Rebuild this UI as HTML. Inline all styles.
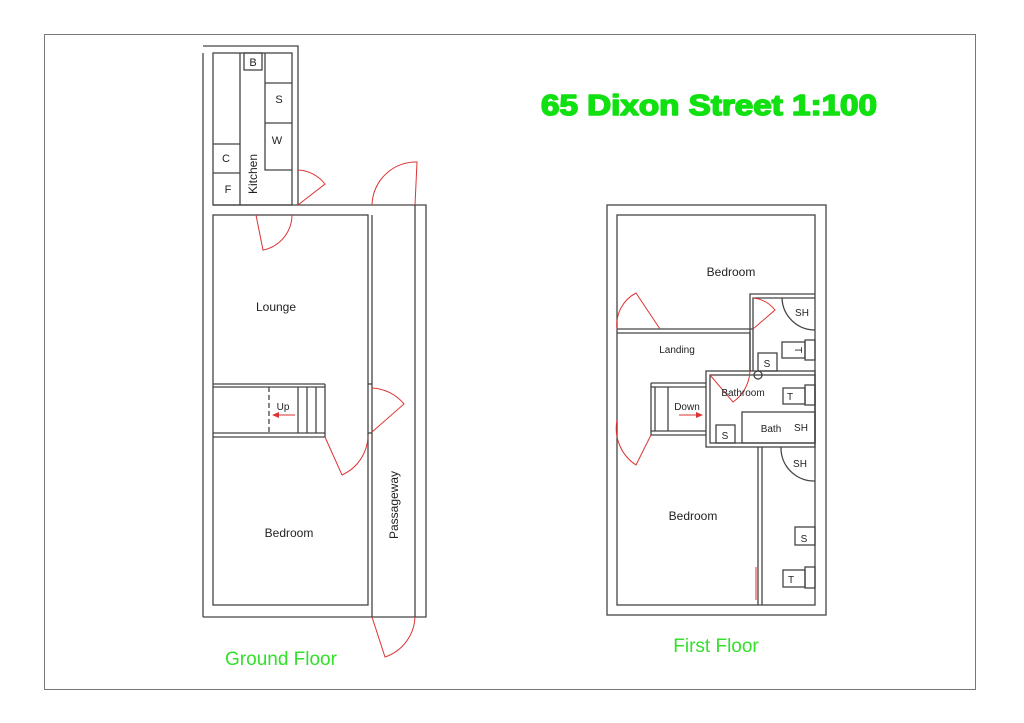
<!DOCTYPE html>
<html><head><style>body{margin:0;background:#fff}svg{display:block}</style></head><body>
<svg width="1024" height="723" viewBox="0 0 1024 723" xmlns="http://www.w3.org/2000/svg" font-family="Liberation Sans, sans-serif">
<rect x="0" y="0" width="1024" height="723" fill="#fff"/>
<rect x="44.5" y="34.5" width="931" height="655" fill="none" stroke="#777" stroke-width="1"/>
<g fill="none" stroke="#444" stroke-width="1.3">
<polyline points="203,46 298,46 298,205"/>
<line x1="203" y1="53" x2="203" y2="617"/>
<rect x="213" y="53" width="79" height="152"/>
<line x1="240" y1="53" x2="240" y2="205"/>
<polyline points="265,53 265,170 292,170"/>
<line x1="265" y1="83" x2="292" y2="83"/>
<line x1="265" y1="123" x2="292" y2="123"/>
<rect x="244" y="53" width="18" height="17"/>
<line x1="213" y1="144" x2="240" y2="144"/>
<line x1="213" y1="173" x2="240" y2="173"/>
<polyline points="203,617 426,617 426,205 213,205"/>
<rect x="213" y="215" width="155" height="390"/>
<line x1="372" y1="215" x2="372" y2="617"/>
<line x1="415" y1="205" x2="415" y2="617"/>
<line x1="213" y1="384" x2="325" y2="384"/>
<line x1="213" y1="387" x2="325" y2="387"/>
<line x1="213" y1="433" x2="325" y2="433"/>
<line x1="213" y1="437" x2="325" y2="437"/>
<line x1="325" y1="384" x2="325" y2="437"/>
<line x1="298" y1="387" x2="298" y2="433"/>
<line x1="307" y1="387" x2="307" y2="433"/>
<line x1="316" y1="387" x2="316" y2="433"/>
<line x1="269" y1="387" x2="269" y2="433" stroke-dasharray="5,3"/>
<line x1="368" y1="384" x2="372" y2="384"/>
<line x1="368" y1="433" x2="372" y2="433"/>
<rect x="607" y="205" width="219" height="410"/>
<rect x="617" y="215" width="198" height="390"/>
<line x1="617" y1="329" x2="753" y2="329"/>
<polyline points="617,333 750,333 750,371"/>
<polyline points="750,371 750,294 815,294"/>
<polyline points="753,371 753,298 815,298"/>
<rect x="706" y="371" width="109" height="76"/>
<rect x="710" y="375" width="105" height="68"/>
<rect x="742" y="412" width="73" height="31"/>
<rect x="716" y="425" width="19" height="18"/>
<rect x="783" y="388" width="22" height="16"/>
<rect x="805" y="385" width="10" height="20"/>
<rect x="758" y="353" width="19" height="18"/>
<rect x="782" y="342" width="23" height="16"/>
<rect x="805" y="340" width="10" height="20"/>
<circle cx="758" cy="375" r="4"/>
<path d="M782,298 A33,33 0 0 0 815,330"/>
<line x1="651" y1="383" x2="706" y2="383"/>
<line x1="651" y1="387" x2="706" y2="387"/>
<line x1="651" y1="431" x2="706" y2="431"/>
<line x1="651" y1="435" x2="706" y2="435"/>
<line x1="651" y1="383" x2="651" y2="435"/>
<line x1="655" y1="387" x2="655" y2="431"/>
<line x1="668" y1="387" x2="668" y2="431"/>
<line x1="758" y1="447" x2="758" y2="605"/>
<line x1="762" y1="447" x2="762" y2="605"/>
<path d="M781,447 A33,33 0 0 0 815,481"/>
<rect x="795" y="527" width="20" height="18"/>
<rect x="783" y="570" width="22" height="17"/>
<rect x="805" y="567" width="10" height="21"/>
</g>
<g fill="none" stroke="#d33" stroke-width="1">
<path d="M298,205 L325,184 A36,36 0 0 0 298,170"/>
<path d="M256,215 L263,250 A36,36 0 0 0 292,215"/>
<path d="M415,205 L417,162 A44,44 0 0 0 372,205"/>
<path d="M325,437 L342,475 A44,44 0 0 0 368,437"/>
<path d="M372,388 A44,44 0 0 1 404,404 L372,432"/>
<path d="M372,617 L385,657 A44,44 0 0 0 415,617"/>
<path d="M617,329 A36,36 0 0 1 636,293 L660,329"/>
<path d="M753,298 A32,32 0 0 1 775,310 L753,329"/>
<path d="M710,375 L733,402 A40,40 0 0 0 750,371"/>
<path d="M617,420 A44,44 0 0 0 636,465 L651,435"/>
<line x1="756" y1="567" x2="756" y2="600"/>
<line x1="295" y1="415" x2="276" y2="415"/>
<line x1="679" y1="415" x2="698" y2="415"/>
</g>
<polygon points="272,415 279,412 279,418" fill="#d33"/>
<polygon points="703,415 696,412 696,418" fill="#d33"/>
<g fill="#222" font-size="11">
<text x="253" y="66" text-anchor="middle">B</text>
<text x="279" y="103" text-anchor="middle">S</text>
<text x="277" y="144" text-anchor="middle">W</text>
<text x="226" y="162" text-anchor="middle">C</text>
<text x="228" y="193" text-anchor="middle">F</text>
<text transform="translate(257,194) rotate(-90)" font-size="12">Kitchen</text>
<text x="276" y="311" text-anchor="middle" font-size="12">Lounge</text>
<text x="283" y="410" text-anchor="middle" font-size="10">Up</text>
<text x="289" y="537" text-anchor="middle" font-size="12">Bedroom</text>
<text transform="translate(398,505) rotate(-90)" text-anchor="middle" font-size="12">Passageway</text>
<text x="731" y="276" text-anchor="middle" font-size="12">Bedroom</text>
<text x="802" y="316" text-anchor="middle" font-size="10">SH</text>
<text x="677" y="353" text-anchor="middle" font-size="10">Landing</text>
<text x="767" y="367" text-anchor="middle" font-size="10">S</text>
<text transform="translate(795,350) rotate(90)" text-anchor="middle" font-size="10">T</text>
<text x="743" y="396" text-anchor="middle" font-size="10">Bathroom</text>
<text x="790" y="400" text-anchor="middle" font-size="10">T</text>
<text x="687" y="410" text-anchor="middle" font-size="10">Down</text>
<text x="771" y="432" text-anchor="middle" font-size="10">Bath</text>
<text x="801" y="431" text-anchor="middle" font-size="10">SH</text>
<text x="725" y="439" text-anchor="middle" font-size="10">S</text>
<text x="800" y="467" text-anchor="middle" font-size="10">SH</text>
<text x="693" y="520" text-anchor="middle" font-size="12">Bedroom</text>
<text x="804" y="542" text-anchor="middle" font-size="10">S</text>
<text x="791" y="583" text-anchor="middle" font-size="10">T</text>
</g>
<text x="541" y="115" font-size="29" font-weight="bold" fill="#11e011" stroke="#11e011" stroke-width="1.6" stroke-linejoin="round" textLength="336" lengthAdjust="spacingAndGlyphs">65 Dixon Street 1:100</text>
<text x="281" y="665" text-anchor="middle" font-size="19" fill="#33e02a">Ground Floor</text>
<text x="716" y="652" text-anchor="middle" font-size="19" fill="#33e02a">First Floor</text>
</svg>
</body></html>
